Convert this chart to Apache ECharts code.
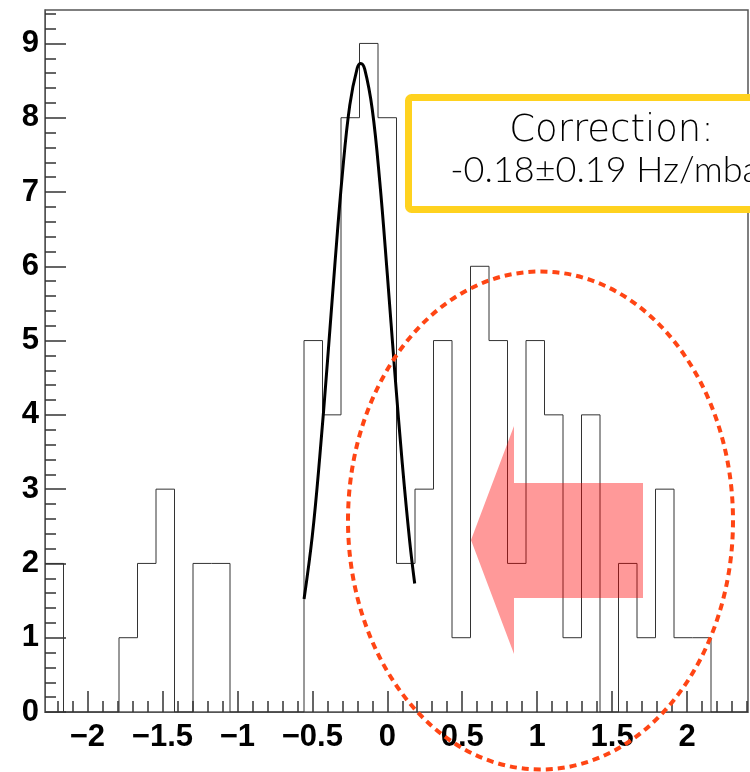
<!DOCTYPE html>
<html>
<head>
<meta charset="utf-8">
<script src="https://cdn.jsdelivr.net/npm/echarts@6/dist/echarts.min.js"></script>
<style>
html,body{margin:0;padding:0;background:#fff;}
#chart{width:750px;height:772px;}
</style>
</head>
<body>
<div id="chart"></div>
<script>
// Histogram: 38 bins starting at binStart with width binWidth
var binStart = -2.283;
var binWidth = 0.1234;
var counts = [2,0,0,0,1,2,3,0,2,2,0,0,0,0,5,4,8,9,8,2,3,5,1,6,5,2,5,4,1,4,0,2,1,3,1,1,0,0];

// Gaussian fit curve
var fitX = [-0.555,-0.5,-0.45,-0.4,-0.35,-0.3,-0.25,-0.2,-0.177,-0.15,-0.1,-0.05,0,0.05,0.1,0.15,0.183];
var fitY = [1.52,2.37,3.44,4.69,6.01,7.23,8.17,8.67,8.73,8.65,8.11,7.14,5.90,4.58,3.35,2.29,1.73];

// Axis ticks
var xMajorTicks = [-2,-1.5,-1,-0.5,0,0.5,1,1.5,2];
var yMajorTicks = [0,1,2,3,4,5,6,7,8,9];
var xRange = [binStart, binStart + counts.length * binWidth];
var yRange = [0, 9.45];

var boxLine1 = 'Correction:';
var boxLine2 = '-0.18\u00b10.19 Hz/mbar';

var histData = [];
for (var i = 0; i < counts.length; i++) {
  histData.push([+(binStart + i * binWidth).toFixed(5), counts[i]]);
}
histData.push([+(binStart + counts.length * binWidth).toFixed(5), counts[counts.length - 1]]);
var fitData = fitX.map(function (x, i) { return [x, fitY[i]]; });

var xMinor = [];
for (var t = -22; t <= 24; t++) if (t % 5 !== 0) xMinor.push(t / 10);
var yMinor = [];
for (var u = 1; u <= 47; u++) if (u % 5 !== 0) yMinor.push(+(u * 0.2).toFixed(2));

var labelFont = {fontFamily: 'Liberation Sans, Arial, sans-serif', fontWeight: 'bold', fontSize: 31, color: '#000'};
var boxFont1 = '200 37px "DejaVu Sans", sans-serif';
var boxFont2 = '300 36px Lato, sans-serif';

var chart = echarts.init(document.getElementById('chart'));
chart.setOption({
  animation: false,
  backgroundColor: '#fff',
  grid: {left: 45, top: 10, right: 2, bottom: 60, show: true, borderColor: '#555', borderWidth: 1.5},
  xAxis: [{
    type: 'value', min: xRange[0], max: xRange[1], position: 'bottom',
    axisLine: {show: true, onZero: false, lineStyle: {color: '#555'}},
    axisTick: {show: true, inside: true, length: 21, customValues: xMajorTicks, lineStyle: {color: '#333', width: 1.5}},
    axisLabel: Object.assign({show: true, margin: 10, customValues: xMajorTicks,
      formatter: function (v) { return String(v).replace('-', '\u2212'); }}, labelFont),
    splitLine: {show: false}
  }, {
    type: 'value', min: xRange[0], max: xRange[1], position: 'bottom',
    axisLine: {show: false, onZero: false},
    axisTick: {show: true, inside: true, length: 11, customValues: xMinor, lineStyle: {color: '#333', width: 1.5}},
    axisLabel: {show: false, customValues: xMinor},
    splitLine: {show: false}
  }],
  yAxis: [{
    type: 'value', min: yRange[0], max: yRange[1], position: 'left',
    axisLine: {show: true, onZero: false, lineStyle: {color: '#555'}},
    axisTick: {show: true, inside: true, length: 21, customValues: yMajorTicks, lineStyle: {color: '#333', width: 1.5}},
    axisLabel: Object.assign({show: true, margin: 6, customValues: yMajorTicks}, labelFont),
    splitLine: {show: false}
  }, {
    type: 'value', min: yRange[0], max: yRange[1], position: 'left',
    axisLine: {show: false, onZero: false},
    axisTick: {show: true, inside: true, length: 11, customValues: yMinor, lineStyle: {color: '#333', width: 1.5}},
    axisLabel: {show: false, customValues: yMinor},
    splitLine: {show: false}
  }],
  series: [{
    type: 'line', xAxisIndex: 0, yAxisIndex: 0, step: 'end', data: histData,
    symbol: 'none', lineStyle: {color: '#333', width: 1}, z: 2
  }, {
    type: 'line', xAxisIndex: 0, yAxisIndex: 0, data: fitData, smooth: 0.4,
    symbol: 'none', lineStyle: {color: '#000', width: 3}, z: 3
  }],
  graphic: [{
    type: 'rect', z: 100,
    shape: {x: 408.5, y: 97.5, width: 420, height: 112, r: 3},
    style: {fill: '#fff', stroke: '#ffd21f', lineWidth: 7}
  }, {
    type: 'text', z: 101, x: 611.5, y: 131,
    style: {text: boxLine1, fill: '#000', font: boxFont1, textAlign: 'center', textVerticalAlign: 'middle'}
  }, {
    type: 'text', z: 101, x: 611.5, y: 170,
    style: {text: boxLine2, fill: '#000', font: boxFont2, textAlign: 'center', textVerticalAlign: 'middle'}
  }, {
    type: 'polygon', z: 102,
    shape: {points: [[471, 540], [514, 426], [514, 483], [643, 483], [643, 598], [514, 598], [514, 654]]},
    style: {fill: 'rgba(255,0,0,0.4)'}
  }, {
    type: 'ellipse', z: 103,
    shape: {cx: 540.5, cy: 520.5, rx: 192.5, ry: 249},
    style: {fill: 'none', stroke: '#ff4514', lineWidth: 4, lineDash: [7, 5]}
  }]
});
</script>
</body>
</html>
